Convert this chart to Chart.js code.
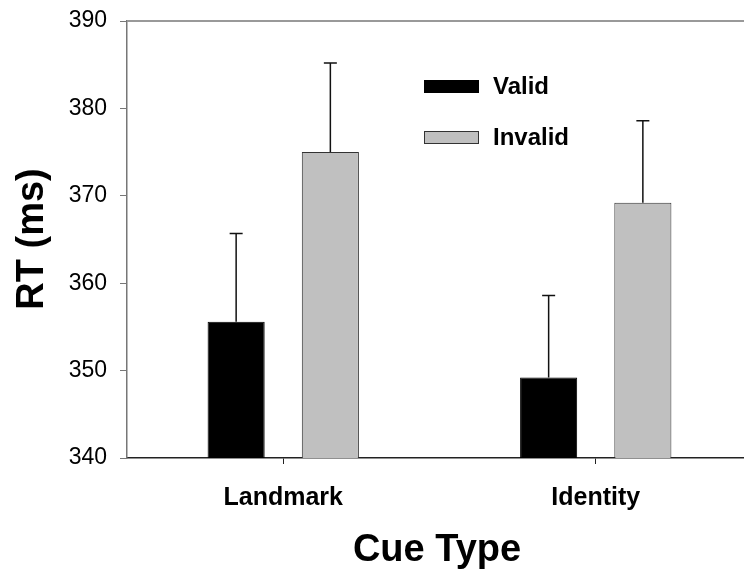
<!DOCTYPE html>
<html>
<head>
<meta charset="utf-8">
<script src="https://cdn.jsdelivr.net/npm/chart.js@4.4.0/dist/chart.umd.min.js"></script>
<style>
  html, body { margin: 0; padding: 0; overflow: hidden; background: #fff; }
  #wrap { width: 752px; height: 576px; }
</style>
</head>
<body>
<div id="wrap"><canvas id="chart" width="752" height="576"></canvas></div>
<script>
// data
let categories = ["Landmark", "Identity"]
let validMeans = [355.6, 349.2]
let invalidMeans = [375.0, 369.2]
let validErrTop = [365.7, 358.6]
let invalidErrTop = [385.2, 378.6]
let yTicks = [340, 350, 360, 370, 380, 390]

const FONT = "'Liberation Sans', Arial, sans-serif"

// error bars, top frame line, legend and axis titles
const extras = {
  id: 'extras',
  afterDatasetsDraw(chart) {
    let ctx = chart.ctx
    let y = chart.scales.y
    let tops = [validErrTop, invalidErrTop]
    ctx.save()
    ctx.strokeStyle = '#111'
    ctx.lineWidth = 1.5
    for (let d = 0; d < 2; d++) {
      let meta = chart.getDatasetMeta(d)
      meta.data.forEach(function (bar, i) {
        let yTop = y.getPixelForValue(tops[d][i])
        ctx.beginPath()
        ctx.moveTo(bar.x, bar.y)
        ctx.lineTo(bar.x, yTop)
        ctx.moveTo(bar.x - 6.5, yTop)
        ctx.lineTo(bar.x + 6.5, yTop)
        ctx.stroke()
      })
    }
    ctx.restore()
  },
  afterDraw(chart) {
    let ctx = chart.ctx
    let area = chart.chartArea
    ctx.save()
    // top frame line
    ctx.strokeStyle = '#999'
    ctx.lineWidth = 2
    ctx.beginPath()
    ctx.moveTo(area.left, area.top)
    ctx.lineTo(chart.width, area.top)
    ctx.stroke()

    // legend
    let items = chart.data.datasets
    items.forEach(function (ds, i) {
      let ly = 80 + i * 51
      ctx.fillStyle = ds.backgroundColor
      ctx.fillRect(424, ly, 55, 13)
      ctx.strokeStyle = ds.borderColor
      ctx.lineWidth = 1
      ctx.strokeRect(424.5, ly + 0.5, 54, 12)
      ctx.fillStyle = '#000'
      ctx.font = "bold 24px " + FONT
      ctx.textBaseline = 'middle'
      ctx.textAlign = 'left'
      ctx.fillText(ds.label, 493, ly + 7)
    })

    // axis titles
    ctx.fillStyle = '#000'
    ctx.textAlign = 'center'
    ctx.textBaseline = 'middle'
    ctx.font = "bold 38px " + FONT
    ctx.fillText("Cue Type", 437, 551)
    ctx.translate(33, 239)
    ctx.rotate(-Math.PI / 2)
    ctx.font = "bold 38px " + FONT
    ctx.fillText("RT (ms)", 0, 0)
    ctx.restore()
  }
}

let ctx = document.getElementById("chart")

let chart = new Chart(ctx, {
  type: 'bar',
  data: {
    labels: categories,
    datasets: [{
      label: "Valid",
      data: validMeans,
      backgroundColor: '#000000',
      borderColor: '#000000',
      borderWidth: 1
    },
    {
      label: "Invalid",
      data: invalidMeans,
      backgroundColor: '#c0c0c0',
      borderColor: '#333333',
      borderWidth: 1
    }]
  },
  options: {
    responsive: false,
    animation: false,
    devicePixelRatio: 1,
    layout: { padding: { top: 21, right: 0, bottom: 0, left: 0 } },
    datasets: {
      bar: { categoryPercentage: 0.603, barPercentage: 0.606 }
    },
    scales: {
      x: {
        offset: true,
        grid: {
          offset: false,
          drawOnChartArea: false,
          drawTicks: true,
          tickLength: 6,
          color: '#222'
        },
        border: { color: '#222', width: 1.5 },
        ticks: {
          color: '#000',
          padding: 19,
          font: { family: FONT, size: 25, weight: 'bold' }
        },
        afterFit: function (scale) { scale.height = 118 }
      },
      y: {
        min: 340,
        max: 390,
        afterBuildTicks: function (scale) {
          scale.ticks = yTicks.map(function (v) { return { value: v } })
        },
        grid: {
          drawOnChartArea: false,
          drawTicks: true,
          tickLength: 7,
          color: '#777'
        },
        border: { color: '#777', width: 1.5 },
        ticks: {
          color: '#000',
          padding: 13,
          font: { family: FONT, size: 23 }
        },
        afterFit: function (scale) {
          scale.width = 127
          scale.paddingTop = 0
          scale.paddingBottom = 0
        }
      }
    },
    plugins: {
      legend: { display: false },
      tooltip: { enabled: false }
    }
  },
  plugins: [extras]
})
</script>
</body>
</html>
